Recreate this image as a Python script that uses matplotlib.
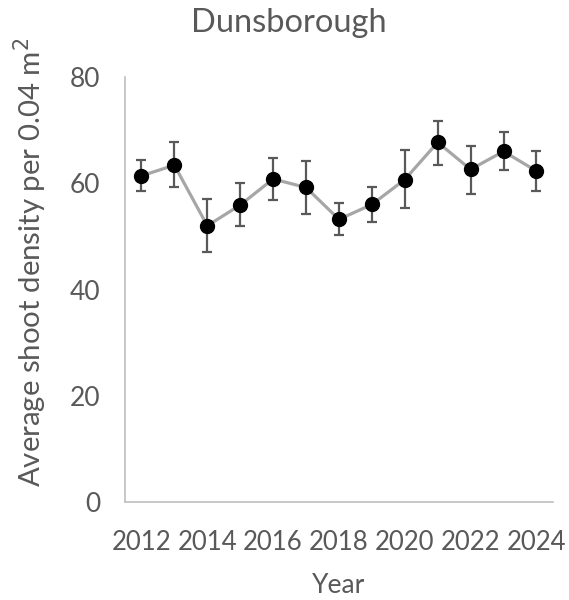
import matplotlib
matplotlib.use('Agg')
import matplotlib.pyplot as plt

# shoot density survey, Dunsborough site
years = [2012, 2013, 2014, 2015, 2016, 2017, 2018, 2019, 2020, 2021, 2022, 2023, 2024]
density = [61.4, 63.4, 52.0, 55.9, 60.8, 59.2, 53.2, 56.0, 60.7, 67.7, 62.6, 66.0, 62.3]
err_low = [2.9, 4.2, 4.9, 4.0, 4.0, 4.9, 2.9, 3.3, 5.3, 4.3, 4.6, 3.5, 3.8]
err_high = [3.0, 4.3, 5.1, 4.1, 4.0, 4.9, 3.1, 3.2, 5.5, 4.1, 4.4, 3.6, 3.7]
tick_years = [2012, 2014, 2016, 2018, 2020, 2022, 2024]
y_ticks = [0, 20, 40, 60, 80]

txt = '#595959'
plt.rcParams['font.family'] = ['Lato', 'DejaVu Sans']

fig = plt.figure(figsize=(5.69, 6.0), dpi=100)
ax = fig.add_axes([0.2197, 0.1633, 0.752, 0.7084])

ax.plot(years, density, color='#a6a6a6', lw=2.3, zorder=1)
ax.errorbar(years, density, yerr=[err_low, err_high], fmt='none',
            ecolor='#595959', elinewidth=1.6, capsize=3.8, capthick=1.6, zorder=2)
ax.plot(years, density, 'o', color='black', ms=10, zorder=3)

ax.set_xlim(2011.5, 2024.5)
ax.set_ylim(0, 80)
ax.set_xticks(tick_years)
ax.set_yticks(y_ticks)
ax.tick_params(length=0, labelsize=19, colors=txt)
ax.tick_params(axis='x', labelsize=18.5, pad=20)
ax.tick_params(axis='y', pad=18)

for s in ['top', 'right']:
    ax.spines[s].set_visible(False)
for s in ['left', 'bottom']:
    ax.spines[s].set_color('#bfbfbf')
    ax.spines[s].set_linewidth(1.2)

ax.set_xlabel('Year', fontsize=19, color=txt, labelpad=13)
# y label sits a bit above the axes centre
fig.text(0.053, 0.563, 'Average shoot density per 0.04 m$^2$', rotation=90,
         ha='center', va='center', fontsize=21.2, color=txt)
fig.text(0.508, 0.962, 'Dunsborough', ha='center', va='center', fontsize=23.5, color=txt)

fig.savefig('out.png', dpi=100)
